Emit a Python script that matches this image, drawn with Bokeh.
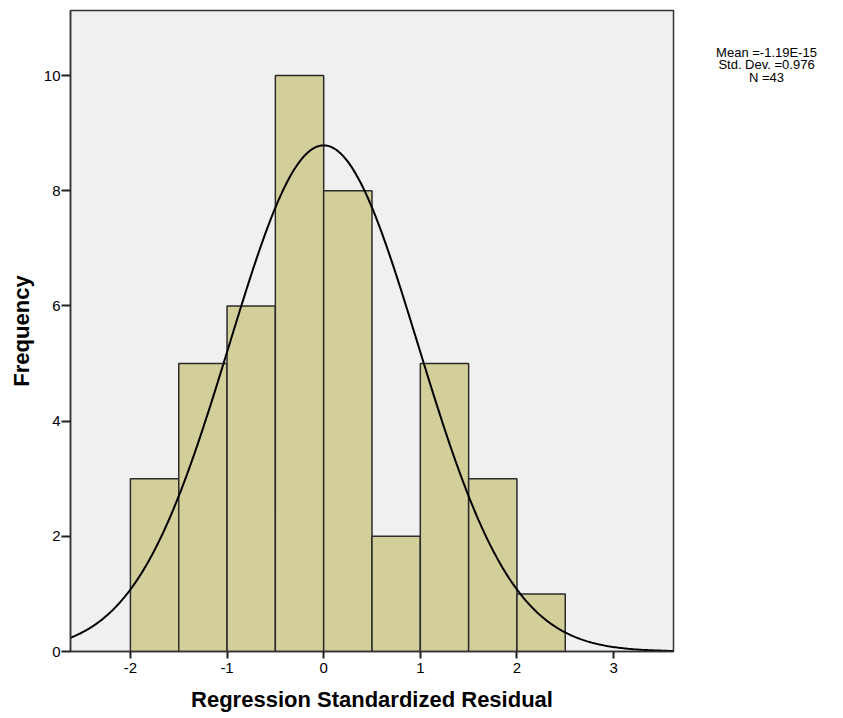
import numpy as np
from bokeh.plotting import figure
from bokeh.layouts import row
from bokeh.models import Range1d, FixedTicker
from bokeh.core.properties import value
from bokeh.embed import file_html
from bokeh.resources import INLINE

# Data
bin_left = [-2.0, -1.5, -1.0, -0.5, 0.0, 0.5, 1.0, 1.5, 2.0]
bin_width = 0.5
counts = [3, 5, 6, 10, 8, 2, 5, 3, 1]
mean = -1.19e-15
std = 0.976
n = 43
x_ticks = [-2, -1, 0, 1, 2, 3]
x_tick_labels = ["-2", "-1", "0", "1", "2", "3"]
y_ticks = [0, 2, 4, 6, 8, 10]
stats_lines = ["Mean =-1.19E-15", "Std. Dev. =0.976", "N =43"]

XMIN, XMAX = -2.62, 3.62
YMIN, YMAX = 0, 11.13

p = figure(width=675, height=718, output_backend="svg", toolbar_location=None,
           x_range=Range1d(XMIN, XMAX), y_range=Range1d(YMIN, YMAX),
           min_border_left=70, min_border_top=10, min_border_right=2, min_border_bottom=67)
p.background_fill_color = "#f0f0f0"
p.border_fill_color = "white"
p.outline_line_color = "#333333"
p.outline_line_width = 1.5
p.grid.visible = False

left = np.array(bin_left)
p.quad(left=left, right=left + bin_width, bottom=0, top=counts,
       fill_color="#d3cf9a", line_color="#2b2b2b", line_width=1.5)

xs = np.linspace(XMIN, XMAX, 400)
ys = n * bin_width / (std * np.sqrt(2 * np.pi)) * np.exp(-0.5 * ((xs - mean) / std) ** 2)
p.line(xs, ys, line_color="black", line_width=2)

for ax in (p.xaxis[0], p.yaxis[0]):
    ax.axis_line_color = "#333333"
    ax.axis_line_width = 1.5
    ax.major_tick_line_color = "#222222"
    ax.major_tick_line_width = 2
    ax.major_tick_in = 0
    ax.minor_tick_line_color = None
    ax.major_label_text_font = "Liberation Sans"
    ax.major_label_text_font_size = "15px"
    ax.major_label_text_color = "black"
    ax.axis_label_text_font = "Liberation Sans"
    ax.axis_label_text_font_style = "bold"
    ax.axis_label_text_font_size = "22px"
    ax.axis_label_text_color = "black"

p.xaxis.ticker = FixedTicker(ticks=x_ticks)
p.xaxis.major_label_overrides = {t: s for t, s in zip(x_ticks, x_tick_labels)}
p.yaxis.ticker = FixedTicker(ticks=y_ticks)
p.xaxis.axis_label = "Regression Standardized Residual"
p.yaxis.axis_label = "Frequency"
p.xaxis.major_tick_out = 7
p.yaxis.major_tick_out = 9
p.xaxis.major_label_standoff = 4
p.xaxis.axis_label_standoff = 11
p.yaxis.major_label_standoff = 1
p.yaxis.axis_label_standoff = 7

# Side panel with summary statistics
p2 = figure(width=152, height=718, output_backend="svg", toolbar_location=None,
            x_range=Range1d(0, 152), y_range=Range1d(718, 0),
            x_axis_location=None, y_axis_location=None,
            min_border_left=0, min_border_right=0, min_border_top=0, min_border_bottom=0)
p2.grid.visible = False
p2.outline_line_color = None
p2.background_fill_color = "white"
p2.border_fill_color = "white"
p2.text(x=[91, 91, 91], y=[47, 61, 75], text=stats_lines,
        text_align="center", text_baseline="middle",
        text_font=value("Liberation Sans"), text_font_size="13px", text_color="black")

layout = row(p, p2)
open("out.html", "w").write(file_html(layout, INLINE))
